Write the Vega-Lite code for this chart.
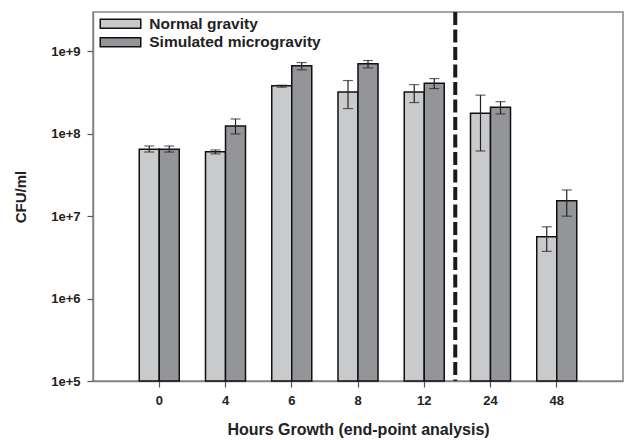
{
  "$schema": "https://vega.github.io/schema/vega-lite/v6.json",
  "width": 530,
  "height": 369,
  "autosize": "none",
  "padding": {"left": 93, "top": 12, "right": 2, "bottom": 59},
  "config": {
    "font": "Liberation Sans",
    "view": {"stroke": "#858585", "strokeWidth": 1.5}
  },
  "datasets": {
    "bars": [
      {"hours": "0", "condition": "Normal gravity", "cfu": 6.5e7, "lo": 6.0e7, "hi": 7.1e7},
      {"hours": "0", "condition": "Simulated microgravity", "cfu": 6.5e7, "lo": 6.0e7, "hi": 7.1e7},
      {"hours": "4", "condition": "Normal gravity", "cfu": 6.06e7, "lo": 5.7e7, "hi": 6.36e7},
      {"hours": "4", "condition": "Simulated microgravity", "cfu": 1.24e8, "lo": 9.95e7, "hi": 1.51e8},
      {"hours": "6", "condition": "Normal gravity", "cfu": 3.81e8, "lo": 3.67e8, "hi": 3.88e8},
      {"hours": "6", "condition": "Simulated microgravity", "cfu": 6.66e8, "lo": 5.96e8, "hi": 7.31e8},
      {"hours": "8", "condition": "Normal gravity", "cfu": 3.22e8, "lo": 2.02e8, "hi": 4.42e8},
      {"hours": "8", "condition": "Simulated microgravity", "cfu": 7.05e8, "lo": 6.3e8, "hi": 7.73e8},
      {"hours": "12", "condition": "Normal gravity", "cfu": 3.22e8, "lo": 2.39e8, "hi": 3.95e8},
      {"hours": "12", "condition": "Simulated microgravity", "cfu": 4.11e8, "lo": 3.53e8, "hi": 4.67e8},
      {"hours": "24", "condition": "Normal gravity", "cfu": 1.77e8, "lo": 6.18e7, "hi": 2.94e8},
      {"hours": "24", "condition": "Simulated microgravity", "cfu": 2.1e8, "lo": 1.74e8, "hi": 2.45e8},
      {"hours": "48", "condition": "Normal gravity", "cfu": 5.62e6, "lo": 3.74e6, "hi": 7.43e6},
      {"hours": "48", "condition": "Simulated microgravity", "cfu": 1.54e7, "lo": 1.0e7, "hi": 2.08e7}
    ],
    "divider": [{"hours": "12"}]
  },
  "layer": [
    {
      "data": {"name": "bars"},
      "mark": {"type": "bar", "stroke": "#111111", "strokeWidth": 1.5},
      "encoding": {
        "x": {
          "field": "hours", "type": "nominal",
          "scale": {"domain": ["0", "4", "6", "8", "12", "24", "48"], "paddingInner": 0.396, "paddingOuter": 0.698},
          "axis": {
            "title": "Hours Growth (end-point analysis)",
            "labelAngle": 0,
            "labelFontSize": 13, "labelFontWeight": "bold", "labelColor": "#222222", "labelPadding": 7,
            "tickSize": 6, "tickColor": "#555555", "tickWidth": 1.2,
            "domainColor": "#858585", "domainWidth": 1.5,
            "titleFontSize": 16, "titleFontWeight": "bold", "titleColor": "#222222", "titlePadding": 14
          }
        },
        "xOffset": {"field": "condition", "type": "nominal", "scale": {"domain": ["Normal gravity", "Simulated microgravity"], "paddingInner": 0, "paddingOuter": 0}},
        "y": {
          "field": "cfu", "type": "quantitative",
          "scale": {"type": "log", "domain": [100000, 3000000000], "nice": false},
          "axis": {
            "title": "CFU/ml",
            "values": [100000, 1000000, 10000000, 100000000, 1000000000],
            "format": ".0e",
            "grid": false,
            "labelFontSize": 13, "labelFontWeight": "bold", "labelColor": "#222222", "labelPadding": 7,
            "tickSize": 6, "tickColor": "#555555", "tickWidth": 1.2,
            "domainColor": "#858585", "domainWidth": 1.5,
            "titleFontSize": 15, "titleFontWeight": "bold", "titleColor": "#222222", "titlePadding": 22
          }
        },
        "y2": {"datum": 100000},
        "fill": {
          "field": "condition", "type": "nominal",
          "scale": {"domain": ["Normal gravity", "Simulated microgravity"], "range": ["#c9cacc", "#949598"]},
          "legend": {
            "title": null,
            "orient": "none", "legendX": 4, "legendY": 4,
            "symbolType": "M-4.5,-1H4.5V1H-4.5Z",
            "symbolSize": 81,
            "symbolOffset": 15.75,
            "symbolStrokeColor": "#111111", "symbolStrokeWidth": 1.5,
            "labelFontSize": 15.5, "labelFontWeight": "bold", "labelColor": "#222222",
            "labelOffset": 21, "labelLimit": 400,
            "rowPadding": 1.5
          }
        }
      }
    },
    {
      "data": {"name": "bars"},
      "mark": {"type": "rule", "color": "#222222", "strokeWidth": 1.2},
      "encoding": {
        "x": {"field": "hours", "type": "nominal"},
        "xOffset": {"field": "condition", "type": "nominal"},
        "y": {"field": "lo", "type": "quantitative"},
        "y2": {"field": "hi"}
      }
    },
    {
      "data": {"name": "bars"},
      "mark": {"type": "tick", "color": "#222222", "size": 10, "thickness": 1.2, "orient": "horizontal"},
      "encoding": {
        "x": {"field": "hours", "type": "nominal"},
        "xOffset": {"field": "condition", "type": "nominal"},
        "y": {"field": "lo", "type": "quantitative"}
      }
    },
    {
      "data": {"name": "bars"},
      "mark": {"type": "tick", "color": "#222222", "size": 10, "thickness": 1.2, "orient": "horizontal"},
      "encoding": {
        "x": {"field": "hours", "type": "nominal"},
        "xOffset": {"field": "condition", "type": "nominal"},
        "y": {"field": "hi", "type": "quantitative"}
      }
    },
    {
      "data": {"name": "divider"},
      "mark": {"type": "rule", "color": "#1a1a1a", "strokeWidth": 4, "strokeDash": [13, 4.5]},
      "encoding": {
        "x": {"field": "hours", "type": "nominal", "bandPosition": 1.275}
      }
    }
  ]
}
